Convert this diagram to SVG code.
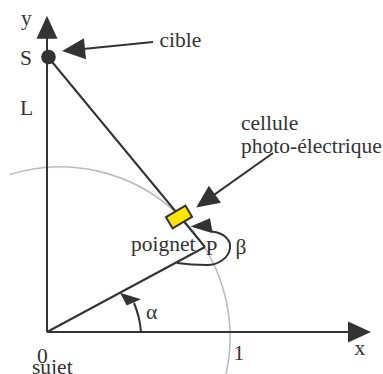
<svg xmlns="http://www.w3.org/2000/svg" width="383" height="374" viewBox="0 0 383 374">
<style>
.ln{stroke:#333;stroke-width:2;fill:none}
.ar{stroke:#333;stroke-width:2;fill:none;marker-end:url(#ah)}
.head{fill:#333;stroke:none}
.arc{stroke:#c2baba;stroke-width:1.6;fill:none}
.t{font-size:21.5px;fill:#333}
</style>
<defs>
<marker id="ah" markerUnits="userSpaceOnUse" markerWidth="24" markerHeight="22" viewBox="0 -11 23 22" refX="2" refY="0" orient="auto">
<path d="M0,-10.5 L23,0 L0,10.5 Z" fill="#333"/>
</marker>
</defs>
<g id="circle-arc">
<path class="arc" d="M 9.5 174.6 A 170 170 0 0 1 224.5 380"/>
</g>
<g id="connectors">
<line id="axis-x" class="ar" x1="47" y1="332" x2="350" y2="332"/>
<line id="axis-y" class="ar" x1="47" y1="332" x2="47" y2="36.7"/>
<line id="arm-OP" class="ln" x1="47" y1="332" x2="205" y2="247"/>
<line id="line-SP" class="ln" x1="48" y1="57" x2="205" y2="247"/>
<line id="arrow-cible" class="ar" x1="153" y1="42" x2="83" y2="49"/>
<line id="arrow-cellule" class="ar" x1="273" y1="153" x2="213.3" y2="195.4"/>
<g id="angle-alpha">
<path class="ln" d="M 141 332 A 94 94 0 0 0 134 303"/>
<polygon class="head" points="120,292.7 126.7,305.5 141,299.3"/>
</g>
<g id="angle-beta">
<path class="ln" d="M 212 231.5 C 224 233, 231 240, 230 248 C 229 258, 218 265, 207 265 C 195 265, 184 264, 177 263"/>
<polygon class="head" points="190.5,226.5 210,218.3 212.7,233.3"/>
</g>
</g>
<g id="node-S">
<circle cx="48.5" cy="57" r="7.3" fill="#333"/>
<text class="t" font-family="Liberation Serif" x="20" y="65">S</text>
</g>
<g id="node-cellule">
<rect x="-11.3" y="-6.5" width="22.6" height="13" transform="translate(179 217) rotate(-30.5)" fill="#ffe600" stroke="#333" stroke-width="2"/>
</g>
<g id="labels">
<text class="t" font-family="Liberation Serif" x="21" y="24.5">y</text>
<text class="t" font-family="Liberation Serif" x="20" y="115">L</text>
<text class="t" font-family="Liberation Serif" x="159.5" y="46.5">cible</text>
<text class="t" font-family="Liberation Serif" x="241" y="130">cellule</text>
<text class="t" font-family="Liberation Serif" x="241" y="153">photo-électrique</text>
<text class="t" font-family="Liberation Serif" x="131" y="251">poignet</text>
<text class="t" font-family="Liberation Serif" x="205.5" y="255">P</text>
<text class="t" font-family="Liberation Serif" x="235.5" y="254">β</text>
<text class="t" font-family="Liberation Serif" x="146" y="319">α</text>
<text class="t" font-family="Liberation Serif" x="37" y="363">0</text>
<text class="t" font-family="Liberation Serif" x="32" y="373.5">sujet</text>
<text class="t" font-family="Liberation Serif" x="233.6" y="360">1</text>
<text class="t" font-family="Liberation Serif" x="354.6" y="355">x</text>
</g>
</svg>
